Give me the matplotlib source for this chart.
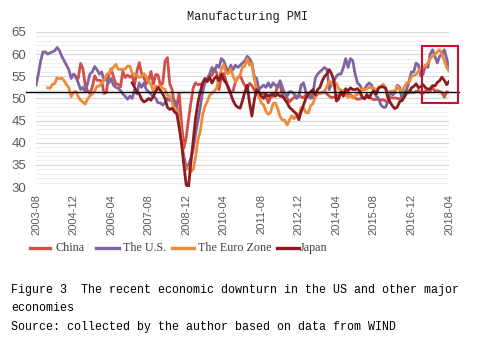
import matplotlib
matplotlib.use("Agg")
import matplotlib.pyplot as plt
import matplotlib.transforms as mtransforms
from matplotlib.patches import Rectangle
from matplotlib.lines import Line2D
import numpy as np
import pandas as pd

# ---------------- data ----------------
months = pd.period_range("2003-08", "2018-04", freq="M").strftime("%Y-%m").tolist()
tick_labels = ["2003-08", "2004-12", "2006-04", "2007-08", "2008-12", "2010-04",
               "2011-08", "2012-12", "2014-04", "2015-08", "2016-12", "2018-04"]
series_names = ["China", "The U.S.", "The Euro Zone", "Japan"]
series_starts = ["2005-01", "2003-08", "2004-01", "2007-01"]

china = [54.7, 54.5, 57.9, 56.7, 52.9, 51.7, 51.1, 52.6, 55.1, 54.1, 54.1, 53.9,
         51.1, 51.4, 55.3, 56.7, 54.9, 53.3, 53.2, 52.6, 56.1, 54.7, 55.3, 54.8,
         55.1, 53.1, 56.1, 58.1, 55.6, 54.6, 53.3, 54.0, 56.1, 53.2, 55.4, 55.3,
         53.0, 53.4, 58.4, 59.2, 53.3, 52.0, 48.4, 48.4, 51.2, 44.6, 38.8, 41.2,
         45.3, 49.0, 52.4, 53.5, 53.1, 53.2, 53.3, 54.0, 54.3, 55.2, 55.2, 56.6,
         55.8, 52.0, 55.1, 55.7, 53.9, 52.1, 51.2, 51.7, 53.8, 54.7, 55.2, 53.9,
         52.9, 52.2, 53.4, 52.9, 52.0, 50.9, 50.7, 50.9, 51.2, 50.4, 49.0, 50.3,
         50.5, 51.0, 53.1, 53.3, 50.4, 50.2, 50.1, 49.2, 49.8, 50.2, 50.6, 50.6,
         50.4, 50.1, 50.9, 50.6, 50.8, 50.1, 50.3, 51.0, 51.1, 51.4, 51.4, 51.0,
         50.5, 50.2, 50.3, 50.4, 50.8, 51.0, 51.7, 51.1, 51.1, 50.8, 50.3, 50.1,
         49.8, 49.9, 50.1, 50.1, 50.2, 50.2, 50.0, 49.7, 49.8, 49.8, 49.6, 49.7,
         49.4, 49.0, 50.2, 50.1, 50.1, 50.0, 49.9, 50.4, 50.4, 51.2, 51.7, 51.4,
         51.3, 51.6, 51.8, 51.2, 51.2, 51.7, 51.4, 51.7, 52.4, 51.6, 51.8, 51.6,
         51.3, 50.3, 51.5, 51.4]

us = [53.0, 55.5, 58.5, 60.5, 60.5,
      60.0, 60.3, 60.5, 60.8, 61.5, 60.8, 59.5, 58.5, 57.5, 56.5, 54.5, 55.5,
      55.0, 53.5, 52.0, 52.5, 51.5, 53.5, 55.5, 56.0, 57.2, 56.5, 55.5, 56.0,
      54.0, 54.5, 53.5, 54.5, 53.0, 52.5, 52.3, 51.8, 51.0, 50.5, 49.8, 50.5,
      50.0, 52.0, 51.0, 53.5, 52.5, 53.5, 52.0, 51.5, 51.0, 50.5, 50.0, 49.0,
      49.0, 48.5, 49.0, 50.0, 49.5, 50.0, 49.5, 48.5, 45.0, 40.0, 37.0, 34.5,
      35.0, 36.5, 38.5, 42.0, 45.0, 48.0, 51.5, 53.5, 54.5, 55.5, 57.0, 56.0,
      57.5, 57.0, 59.0, 58.5, 57.0, 56.0, 57.5, 56.5, 57.5, 57.0, 57.5, 58.0,
      58.5, 59.5, 59.0, 58.0, 55.0, 54.5, 52.0, 52.5, 53.0, 52.5, 53.5, 52.5,
      53.5, 53.0, 52.5, 54.0, 52.5, 51.0, 50.5, 51.5, 51.5, 51.0, 50.0, 50.5,
      53.0, 53.5, 51.5, 50.5, 50.0, 51.0, 54.5, 55.5, 56.0, 56.5, 57.0, 56.5,
      52.0, 53.5, 54.0, 55.0, 55.5, 55.5, 57.0, 59.0, 57.0, 59.0, 58.5, 55.5,
      53.5, 53.0, 52.0, 52.0, 53.0, 53.5, 53.0, 51.5, 50.5, 50.0, 48.5, 48.0,
      48.0, 49.5, 51.5, 50.8, 51.3, 53.0, 52.5, 49.5, 51.5, 52.0, 54.0, 56.0,
      56.0, 58.0, 57.5, 55.0, 55.5, 57.5, 57.0, 60.0, 61.0, 59.5, 58.0, 59.5,
      60.0, 61.0, 59.0, 57.0]

euro = [52.4, 52.3, 53.2, 53.4, 54.7, 54.4, 54.6, 54.0, 53.1, 52.4, 50.4, 51.4,
        51.6, 50.4, 49.6, 49.2, 48.7, 49.9, 50.6, 51.0, 51.7, 52.7, 52.8, 53.6,
        54.0, 55.4, 55.7, 56.3, 57.0, 57.7, 56.6, 56.5, 56.6, 56.6, 57.3, 57.3,
        55.6, 55.5, 55.4, 54.7, 55.0, 55.6, 54.9, 53.7, 53.2, 51.5, 52.8, 52.6,
        52.8, 52.3, 52.0, 50.7, 50.6, 49.2, 47.4, 47.6, 45.0, 41.1, 35.6, 33.9,
        34.4, 33.5, 33.9, 36.8, 40.7, 42.6, 46.3, 48.2, 49.3, 50.7, 51.2, 51.6,
        52.4, 54.2, 56.6, 57.6, 55.8, 55.6, 56.7, 55.1, 53.7, 54.6, 55.3, 57.1,
        57.3, 59.0, 57.5, 58.0, 54.6, 52.0, 50.4, 49.0, 48.5, 47.1, 46.4, 46.9,
        48.8, 49.0, 47.7, 45.9, 45.1, 45.1, 44.0, 45.1, 46.1, 45.4, 46.2, 46.1,
        47.9, 47.9, 46.8, 46.7, 48.3, 48.8, 50.3, 51.4, 51.1, 51.3, 51.6, 52.7,
        54.0, 53.2, 53.0, 53.4, 52.2, 51.8, 51.8, 50.7, 50.3, 50.6, 50.1, 50.6,
        51.0, 51.0, 52.2, 52.0, 52.2, 52.5, 52.4, 52.3, 52.0, 52.3, 52.8, 53.2,
        52.3, 51.2, 51.6, 51.7, 51.5, 52.8, 52.0, 51.7, 52.6, 53.5, 53.7, 54.9,
        55.2, 55.4, 56.2, 56.7, 57.0, 57.4, 58.0, 59.0, 59.5, 60.0, 60.5, 61.0,
        60.0, 58.5, 57.0, 56.2]

japan = [53.5, 52.5, 51.5, 51.0, 49.8, 49.2, 49.5, 50.0, 49.6, 50.5, 51.5, 52.5,
         51.8, 51.0, 50.0, 48.0, 47.5, 47.8, 47.0, 46.5, 43.5, 40.0, 35.0, 30.5,
         30.0, 35.5, 40.5, 45.5, 49.0, 51.5, 53.5, 54.5, 53.8, 54.8, 53.5, 54.5,
         55.0, 54.0, 55.5, 54.2, 53.5, 52.5, 51.0, 49.5, 48.5, 48.0, 47.8, 49.5,
         51.5, 53.0, 49.0, 46.0, 49.5, 52.0, 51.5, 50.5, 50.0, 51.0, 50.5, 50.8,
         51.0, 50.5, 51.0, 50.5, 50.5, 49.8, 49.0, 48.0, 47.5, 47.0, 46.5, 45.2,
         47.0, 48.5, 50.0, 51.0, 51.5, 52.0, 50.8, 52.0, 52.5, 54.0, 55.0, 55.5,
         56.5, 55.5, 53.9, 49.4, 49.9, 51.5, 50.5, 52.2, 51.7, 52.4, 52.0, 52.0,
         52.2, 51.6, 50.3, 49.9, 50.9, 50.1, 51.2, 51.7, 51.0, 52.4, 52.6, 52.6,
         52.3, 50.1, 49.1, 48.2, 47.7, 48.1, 49.3, 49.5, 50.4, 51.4, 51.3, 52.4,
         52.7, 53.3, 52.4, 52.7, 53.1, 52.4, 52.1, 52.2, 52.9, 52.8, 53.6, 54.0,
         54.8, 54.1, 53.1, 53.8]

reference_level = 51.5          # black horizontal line
highlight_from = "2017-05"      # red box start
highlight_range = (49.0, 61.9)  # red box value range

series_values = [china, us, euro, japan]
colors = ["#d24f48", "#8064a2", "#ee8a3a", "#8e1b1f"]

# ---------------- figure ----------------
W, H = 481, 342
fig = plt.figure(figsize=(W / 100, H / 100), dpi=100)
ax = fig.add_axes([36 / W, 1 - 187 / H, (449 - 36) / W, (187 - 32) / H])

for vals, start, col, name in zip(series_values, series_starts, colors, series_names):
    i0 = months.index(start)
    xs = np.arange(i0, i0 + len(vals))
    ax.plot(xs, vals, color=col, lw=2.0, solid_joinstyle="round", label=name, zorder=3)

ax.set_xlim(0, len(months) - 1)
ax.set_ylim(30, 65)
ax.set_yticks(np.arange(30, 66, 5))
ax.set_yticks(np.arange(30, 66, 1), minor=True)
ax.grid(axis="y", which="major", color="#d6d6d6", lw=0.8, zorder=0)
ax.grid(axis="y", which="minor", color="#ebebeb", lw=0.6, zorder=0)
ax.set_xticks([months.index(t) for t in tick_labels])
ax.set_xticklabels(tick_labels, rotation=90, fontsize=8, color="#595959",
                   family="Liberation Sans")
for lab in ax.get_yticklabels():
    lab.set_fontsize(9.5)
    lab.set_color("#595959")
    lab.set_family("Liberation Sans")
ax.tick_params(axis="both", which="both", length=0)
ax.tick_params(axis="y", pad=7)
ax.tick_params(axis="x", pad=5)
for s in ax.spines.values():
    s.set_visible(False)

# reference line extends a bit beyond axes
trans = mtransforms.blended_transform_factory(ax.transAxes, ax.transData)
ax.plot([-0.024, 1.024], [reference_level, reference_level], color="black",
        lw=1.0, transform=trans, clip_on=False, zorder=4)

# highlight box
x0 = months.index(highlight_from) - 0.5
ax.add_patch(Rectangle((x0, highlight_range[0]), 180 - x0,
                       highlight_range[1] - highlight_range[0],
                       fill=False, edgecolor="#c8102e", lw=1.5,
                       clip_on=False, zorder=5))

# title
fig.text(247.5 / W, 1 - 17 / H, "Manufacturing PMI", ha="center", va="center",
         family="Liberation Mono", fontsize=8.6, color="#1a1a1a")

# legend (manual)
leg_y = 1 - 248 / H
leg_lines = [(30, 50), (96, 119), (172, 194), (277, 299)]
leg_text_x = [55, 123, 198, 300]
for (a, b), tx, col, name in zip(leg_lines, leg_text_x, colors, series_names):
    fig.add_artist(Line2D([a / W, b / W], [leg_y, leg_y], color=col, lw=2.4,
                          transform=fig.transFigure))
    fig.text(tx / W, leg_y, name, ha="left", va="center", family="Liberation Serif",
             fontsize=8.7, color="#404040")

# caption
cap = ["Figure 3  The recent economic downturn in the US and other major",
       "economies",
       "Source: collected by the author based on data from WIND"]
for line, yy in zip(cap, [290, 308, 327]):
    fig.text(11 / W, 1 - yy / H, line, ha="left", va="center",
             family="Liberation Mono", fontsize=8.4, color="black")

fig.savefig("out.png", dpi=100, facecolor="white")
